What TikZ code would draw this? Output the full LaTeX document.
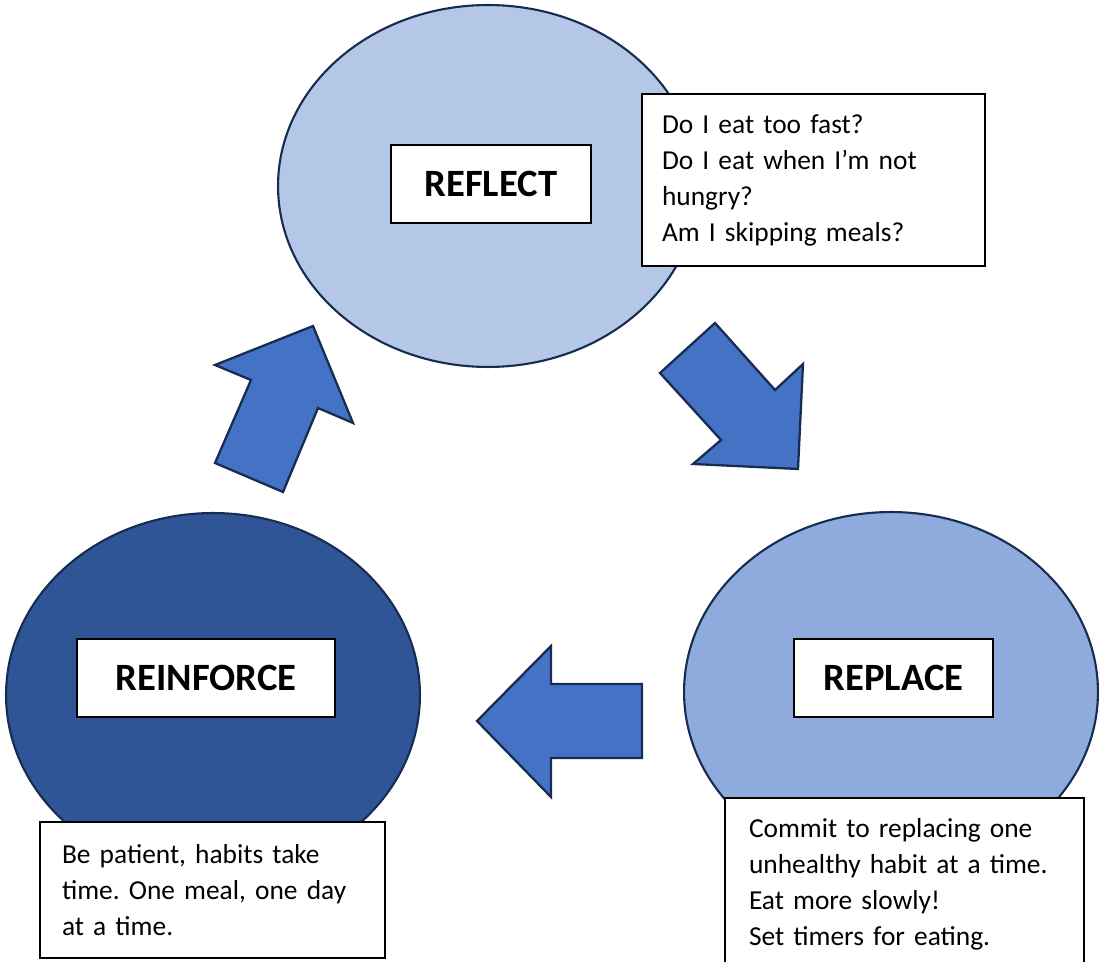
\documentclass[tikz,border=0pt]{standalone}
\usepackage{fontspec}
\setmainfont{Carlito}[Ligatures=Common]
\usetikzlibrary{shapes.geometric}

\definecolor{reflectfill}{HTML}{B4C7E7}
\definecolor{replacefill}{HTML}{8FAADC}
\definecolor{reinforcefill}{HTML}{2F5597}
\definecolor{arrowfill}{HTML}{4472C4}
\definecolor{navy}{HTML}{172C51}

\tikzset{
  stage/.style={ellipse, draw=navy, line width=1.2pt, inner sep=0pt},
  stagename/.style={draw=black, fill=white, line width=0.9pt, minimum height=1.56cm,
    font=\fontsize{22}{26}\selectfont\bfseries},
  notebox/.style={draw=black, fill=white, line width=0.9pt, align=left,
    font=\fontsize{15.6}{20.5}\selectfont\frenchspacing},
  bigarrow/.style={draw=navy, fill=arrowfill, line width=1.3pt, line join=miter}
}

\begin{document}
\begin{tikzpicture}[x=0.02cm, y=-0.02cm]
  \useasboundingbox (0,0) rectangle (1099,962);

  % the three stages
  \node[stage, fill=reflectfill, minimum width=8.4cm, minimum height=7.24cm] (reflect) at (488,186) {};
  \node[stage, fill=reinforcefill, minimum width=8.28cm, minimum height=7.28cm] (reinforce) at (213,695) {};
  \node[stage, fill=replacefill, minimum width=8.28cm, minimum height=7.2cm] (replace) at (891,692) {};

  \node[stagename, minimum width=4cm] (reflectname) at (491,184) {REFLECT};
  \node[stagename, minimum width=5.16cm] (reinforcename) at (206,678) {REINFORCE};
  \node[stagename, minimum width=3.98cm] (replacename) at (893.5,678) {REPLACE};

  % block arrows between the stages
  \draw[bigarrow] (313,326) -- (353,423) -- (318,408) -- (283,492) -- (215,463) -- (251,380) -- (215,365) -- cycle;
  \draw[bigarrow] (798,469) -- (693,464) -- (721,440) -- (660,373) -- (715,323) -- (775,390) -- (803,364) -- cycle;
  \draw[bigarrow] (477,721) -- (551,646) -- (551,684) -- (642,684) -- (642,758) -- (551,758) -- (551,797) -- cycle;

  % notes
  \node[notebox, text width=6.06cm, inner xsep=0.4cm, minimum height=3.44cm] (reflectnote) at (813.5,180)
    {Do I eat too fast?\\ Do I eat when I’m not\\ hungry?\\ Am I skipping meals?};
  \node[notebox, text width=6.02cm, inner xsep=0.44cm, minimum height=2.72cm] (reinforcenote) at (212.5,890)
    {Be patient, habits take\\ time. One meal, one day\\ at a time.};
  \node[notebox, text width=6.22cm, inner xsep=0.48cm, minimum height=3.46cm] (replacenote) at (904.5,884.5)
    {Commit to replacing one\\ unhealthy habit at a time.\\ Eat more slowly!\\ Set timers for eating.};
\end{tikzpicture}
\end{document}
